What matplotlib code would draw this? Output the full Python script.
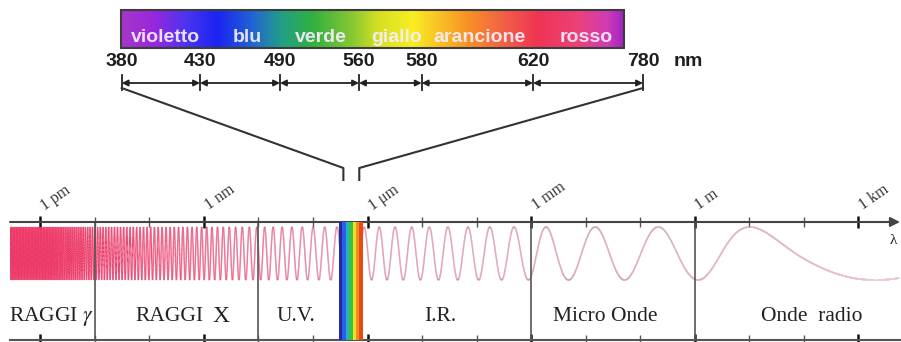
import numpy as np
import matplotlib.pyplot as plt
import matplotlib.transforms as mtransforms
from matplotlib.colors import LinearSegmentedColormap, to_rgb
from matplotlib.collections import LineCollection
from matplotlib.patches import Rectangle
from matplotlib.ticker import NullFormatter

plt.rcParams['mathtext.fontset'] = 'stix'

# --- dati: spettro visibile (nm) ---
nm_marks = [380, 430, 490, 560, 580, 620, 780]
color_names = ['violetto', 'blu', 'verde', 'giallo', 'arancione', 'rosso']

# --- dati: spettro elettromagnetico (metri) ---
tick_m = [1e-12, 1e-9, 1e-6, 1e-3, 1.0, 1e3]
tick_labels = ['1 pm', '1 nm', '1 μm', '1 mm', '1 m', '1 km']
minor_m = [10.0 ** k for k in range(-12, 4)]
boundaries_m = [1e-11, 1e-8, 1e-3, 1.0]
region_names = ['RAGGI $\\gamma$', 'RAGGI', 'U.V.', 'I.R.', 'Micro Onde', 'Onde  radio']
visible_band_nm = (300, 820)
funnel_nm = (360, 705)
rainbow = ['#232c96', '#2a5cf0', '#22b4c8', '#3cbf3c', '#e6e22a', '#f28a1e', '#e84a14']

# periodo dell'onda (in decadi), in funzione di log10(lambda)
wave_log = [-11.8, -10.9, -9.07, -7.42, -5.96, -4.58, -3.39, -2.38, -1.46, -0.27, 0.55, 2.11, 3.5]
wave_period = [0.0275, 0.05, 0.09, 0.183, 0.275, 0.348, 0.458, 0.917, 1.10, 1.47, 1.83, 5.5, 7.0]
wave_peak_log = 1.01

# --- layout (pixel) ---
mark_px = [121.7, 200, 280, 359, 421.7, 533, 643]
name_px = [165, 247, 321, 397, 479, 586]
region_pos = [-11.79, -9.64, -7.31, -4.67, -1.65, 2.15]

fig = plt.figure(figsize=(9.01, 3.42), dpi=100)

# assi in pixel per la parte superiore
ax_top = fig.add_axes([0, 0, 1, 1])
ax_top.axis('off')

grad_stops = [0.0, 0.06, 0.13, 0.19, 0.26, 0.32, 0.38, 0.46, 0.51, 0.58, 0.63, 0.69, 0.76, 0.83, 0.91, 0.97, 1.0]
grad_cols = ['#a436c8', '#9a28dc', '#4a34f0', '#1a24f2', '#2264d4', '#22a084', '#30b040', '#88c832',
             '#d4e024', '#f8ee22', '#f8c424', '#f89226', '#f26244', '#f03454', '#ec4278', '#d03cb4', '#a424c0']
cmap = LinearSegmentedColormap.from_list('vis', list(zip(grad_stops, grad_cols)))
ax_top.imshow(np.linspace(0, 1, 600).reshape(1, -1), cmap=cmap, extent=(121, 624, 48, 10),
              aspect='auto', interpolation='bilinear', zorder=1)
ax_top.add_patch(Rectangle((121, 10), 503, 38, fill=False, ec='#3c3c3c', lw=1.5, zorder=2))

for name, px in zip(color_names, name_px):
    ax_top.text(px, 38, name, ha='center', va='center', fontsize=14, weight='bold',
                family='Liberation Sans', color='#f6eeff', alpha=0.92, zorder=3)

for nm, px in zip(nm_marks, mark_px):
    ax_top.text(px, 61, str(nm), ha='center', va='center', fontsize=14, weight='bold',
                family='Liberation Sans', color='#1e1e1e')
    ax_top.plot([px, px], [75, 90], color='#222222', lw=1.3)
ax_top.text(688, 61, 'nm', ha='center', va='center', fontsize=14, weight='bold',
            family='Liberation Sans', color='#1e1e1e')

for a, b in zip(mark_px[:-1], mark_px[1:]):
    ax_top.annotate('', xy=(a, 83), xytext=(b, 83),
                    arrowprops=dict(arrowstyle='<|-|>', color='#222222', lw=1.3,
                                    mutation_scale=9, shrinkA=0, shrinkB=0))

# assi dello spettro elettromagnetico (scala logaritmica)
x0_px, x1_px = 10, 900
ax = fig.add_axes([x0_px / 901, 2 / 342, (x1_px - x0_px) / 901, 118 / 342])
ax.patch.set_alpha(0)
ax.set_xscale('log')
ax.set_xlim(10 ** -12.557, 10 ** 3.764)
ax.set_ylim(0, 1)

# onda
u = np.linspace(-12.557, 3.76, 40000)
per = np.exp(np.interp(u, wave_log, np.log(wave_period)))
cyc = np.concatenate([[0], np.cumsum(np.diff(u) / (0.5 * (per[1:] + per[:-1])))])
cyc -= np.interp(wave_peak_log, u, cyc)
yw = 0.733 + 0.225 * np.cos(2 * np.pi * cyc)
pts = np.column_stack([10 ** u, yw]).reshape(-1, 1, 2)
segs = np.concatenate([pts[:-1], pts[1:]], axis=1)
col_u = [-12.6, -8.0, -6.0, -2.0, 1.0, 3.8]
col_c = ['#ee3464', '#e8507a', '#d9789a', '#d88aa4', '#e4a8bc', '#ecc4d0']
rgb = np.array([to_rgb(c) for c in col_c])
um = 0.5 * (u[1:] + u[:-1])
seg_cols = np.column_stack([np.interp(um, col_u, rgb[:, k]) for k in range(3)])
ax.add_collection(LineCollection(segs, colors=seg_cols, linewidths=1.0, zorder=2))

for b in boundaries_m:
    ax.axvline(b, color='#555555', lw=1.2, zorder=3)

edges = np.logspace(np.log10(visible_band_nm[0] * 1e-9), np.log10(visible_band_nm[1] * 1e-9), len(rainbow) + 1)
for c, a, b in zip(rainbow, edges[:-1], edges[1:]):
    ax.axvspan(a, b, color=c, lw=0, zorder=4)

for name, pos in zip(region_names, region_pos):
    ax.text(10 ** pos, 0.195, name, ha='center', va='center', fontsize=15.5,
            family='Liberation Serif', color='#222222')
ax.text(10 ** -8.69, 0.2, 'X', ha='center', va='center', fontsize=17,
        family='Liberation Serif', color='#222222')
ax.text(10 ** 3.635, 0.847, 'λ', ha='center', va='center', fontsize=11,
        family='Liberation Serif', color='#222222')

# assi, tacche
for s in ['left', 'right', 'top']:
    ax.spines[s].set_visible(False)
ax.spines['bottom'].set_color('#555555')
ax.spines['bottom'].set_linewidth(1.5)
ax.annotate('', xy=(1, 1), xytext=(0, 1), xycoords='axes fraction',
            arrowprops=dict(arrowstyle='-|>', color='#444444', lw=1.5,
                            mutation_scale=14, shrinkA=0, shrinkB=0))
ax.set_yticks([])
ax.set_xticks(tick_m, tick_labels)
ax.set_xticks(minor_m, minor=True)
ax.xaxis.set_minor_formatter(NullFormatter())
ax.tick_params(axis='x', which='both', top=True, bottom=True, labeltop=True,
               labelbottom=False, direction='inout')
ax.tick_params(axis='x', which='major', length=8, width=1.8, color='#111111', pad=2,
               labelsize=11.5, labelcolor='#333333')
ax.tick_params(axis='x', which='minor', length=7, width=1.0, color='#555555')
shift = mtransforms.ScaledTranslation(5 / 72, 0, fig.dpi_scale_trans)
for t in ax.xaxis.get_major_ticks():
    t.label2.set_rotation(35)
    t.label2.set_ha('left')
    t.label2.set_va('bottom')
    t.label2.set_rotation_mode('anchor')
    t.label2.set_family('Liberation Serif')
    t.label2.set_transform(t.label2.get_transform() + shift)

# imbuto tra la scala del visibile e la banda
ax_top.set_xlim(0, 901)
ax_top.set_ylim(342, 0)
inv = ax_top.transData.inverted()
for nm, px in zip(funnel_nm, [mark_px[0], mark_px[-1]]):
    xb = inv.transform(ax.transData.transform((nm * 1e-9, 0.5)))[0]
    ax_top.plot([px, xb, xb], [88, 168, 180], color='#333333', lw=1.5)

fig.savefig('out.png', dpi=100)
